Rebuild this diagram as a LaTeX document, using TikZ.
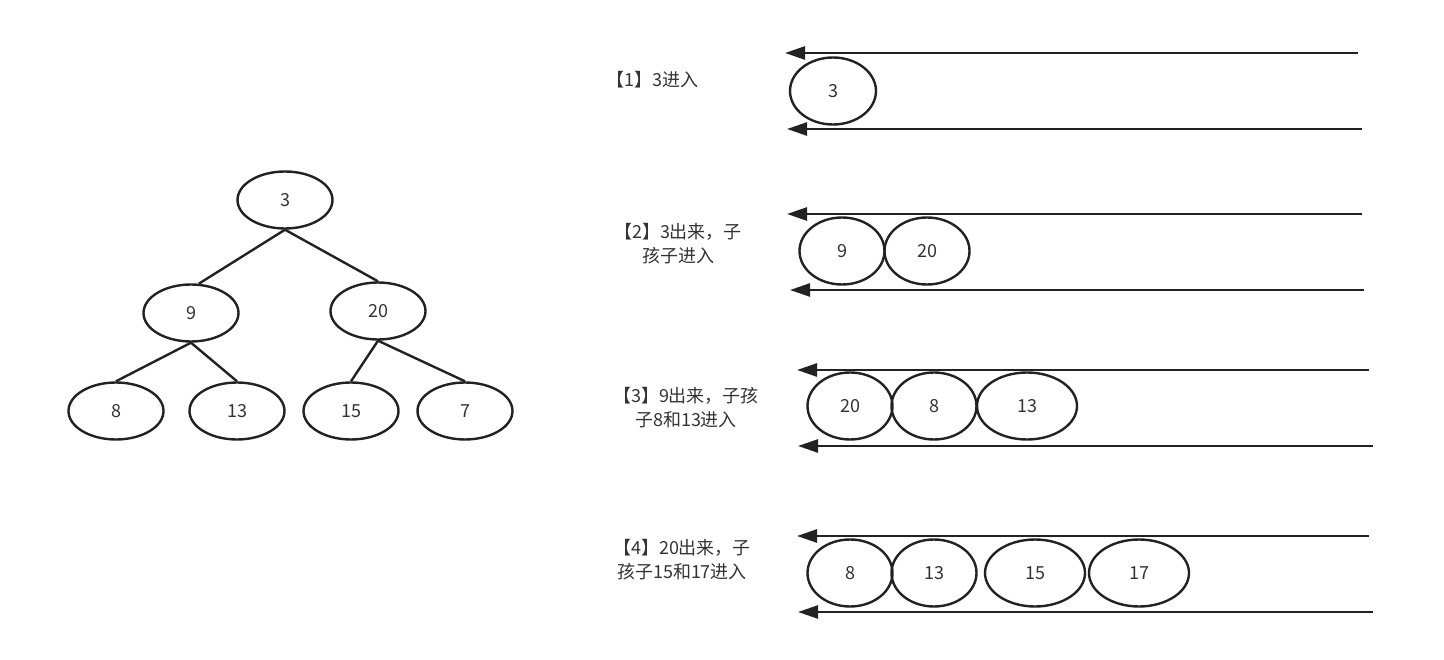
\documentclass[tikz,border=0pt]{standalone}
\usepackage{fontspec}
\setmainfont{Noto Sans CJK SC}
\usetikzlibrary{shapes.geometric, arrows.meta}

\definecolor{inkline}{HTML}{222222}
\definecolor{inktext}{HTML}{333333}

\tikzset{
  treenode/.style={ellipse, draw=inkline, line width=2.4pt, inner sep=0pt,
    minimum width=95, minimum height=57, text=inktext, font=\fontsize{18}{20}\selectfont},
  queuenode/.style={ellipse, draw=inkline, line width=2.4pt, inner sep=0pt,
    minimum height=67, text=inktext, font=\fontsize{18}{20}\selectfont},
  treeedge/.style={draw=inkline, line width=2.4pt},
  queuearrow/.style={draw=inkline, line width=2.6pt, -{Triangle[length=20pt, width=13pt]}},
  steplabel/.style={text=inktext, align=center, font=\fontsize{18}{24}\selectfont}
}

\begin{document}
\begin{tikzpicture}[x=1pt, y=-1pt]

  %%-- CANVAS (1444 x 660 px) --%%
  \useasboundingbox (0,0) rectangle (1444,660);

  %%-- BINARY TREE (left half) --%%
  \node[treenode] (t3)  at (285,200) {3};
  \node[treenode] (t9)  at (191,313) {9};
  \node[treenode] (t20) at (378,311) {20};
  \node[treenode] (t8)  at (116,411) {8};
  \node[treenode] (t13) at (237,411) {13};
  \node[treenode] (t15) at (351,411) {15};
  \node[treenode] (t7)  at (465,411) {7};

  \draw[treeedge] (t3.south)  -- (t9.75);
  \draw[treeedge] (t3.south)  -- (t20.north);
  \draw[treeedge] (t9.south)  -- (t8.north);
  \draw[treeedge] (t9.south)  -- (t13.north);
  \draw[treeedge] (t20.south) -- (t15.north);
  \draw[treeedge] (t20.south) -- (t7.north);

  %%-- STEP LABELS --%%
  \node[steplabel, anchor=west] (s1) at (603,80) {【1】3进入};
  \node[steplabel] (s2) at (678,244) {【2】3出来，子\\孩子进入};
  \node[steplabel] (s3) at (686,408) {【3】9出来，子孩\\子8和13进入};
  \node[steplabel] (s4) at (682,560) {【4】20出来，子\\孩子15和17进入};

  %%-- QUEUE ARROWS (pointing left: out of the queue) --%%
  \coordinate (r1ta) at (1358,53);  \coordinate (r1tb) at (785,53);
  \coordinate (r1ba) at (1362,129); \coordinate (r1bb) at (787,129);
  \coordinate (r2ta) at (1362,214); \coordinate (r2tb) at (787,214);
  \coordinate (r2ba) at (1364,290); \coordinate (r2bb) at (790,290);
  \coordinate (r3ta) at (1369,370); \coordinate (r3tb) at (797,370);
  \coordinate (r3ba) at (1373,446); \coordinate (r3bb) at (798,446);
  \coordinate (r4ta) at (1369,536); \coordinate (r4tb) at (797,536);
  \coordinate (r4ba) at (1373,612); \coordinate (r4bb) at (798,612);
  \foreach \r in {1,2,3,4} {
    \draw[queuearrow] (r\r ta) -- (r\r tb);
    \draw[queuearrow] (r\r ba) -- (r\r bb);
  }

  %%-- QUEUE CONTENTS --%%
  % [1]
  \node[queuenode, minimum width=86] (q1a) at (833,91) {3};
  % [2]
  \node[queuenode, minimum width=85] (q2a) at (842,251) {9};
  \node[queuenode, minimum width=85] (q2b) at (927,251) {20};
  % [3]
  \node[queuenode, minimum width=85]  (q3a) at (850,406) {20};
  \node[queuenode, minimum width=85]  (q3b) at (934,406) {8};
  \node[queuenode, minimum width=100] (q3c) at (1027,406) {13};
  % [4]
  \node[queuenode, minimum width=85]  (q4a) at (850,573) {8};
  \node[queuenode, minimum width=85]  (q4b) at (934,573) {13};
  \node[queuenode, minimum width=100] (q4c) at (1035,573) {15};
  \node[queuenode, minimum width=100] (q4d) at (1139,573) {17};

\end{tikzpicture}
\end{document}
